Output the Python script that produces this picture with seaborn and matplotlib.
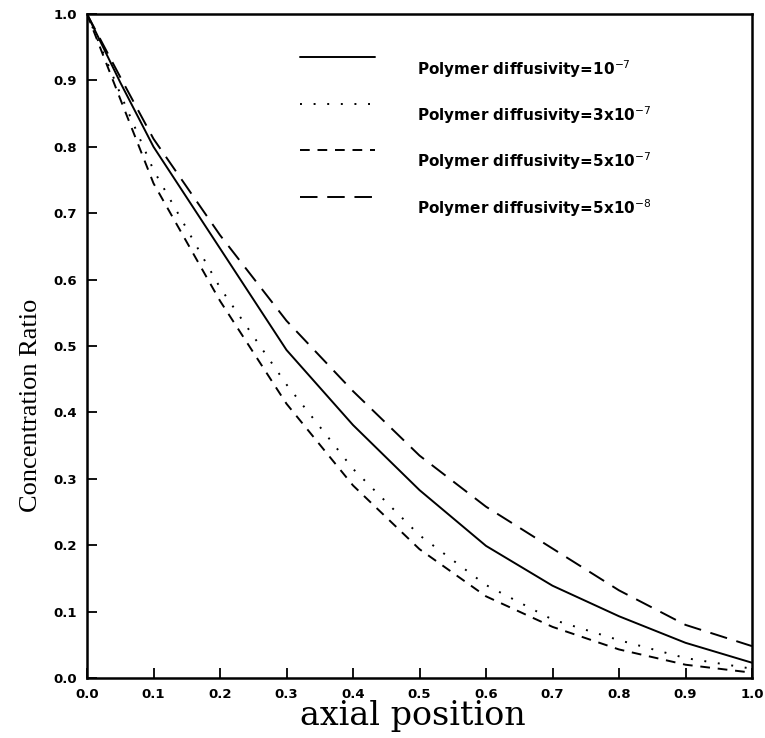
import numpy as np
import pandas as pd
import matplotlib
matplotlib.use("Agg")
import matplotlib.pyplot as plt
import matplotlib.transforms as mtransforms
import seaborn as sns

# Data
axial = [0.0, 0.05, 0.1, 0.2, 0.3, 0.4, 0.5, 0.6, 0.7, 0.8, 0.9, 1.0]
conc_1e7 = [1.0, 0.897, 0.80, 0.647, 0.494, 0.381, 0.283, 0.199, 0.139, 0.093, 0.053, 0.023]
conc_3e7 = [1.0, 0.880, 0.765, 0.588, 0.442, 0.315, 0.215, 0.140, 0.088, 0.057, 0.030, 0.014]
conc_5e7 = [1.0, 0.872, 0.745, 0.568, 0.413, 0.290, 0.194, 0.123, 0.077, 0.043, 0.020, 0.008]
conc_5e8 = [1.0, 0.905, 0.812, 0.667, 0.538, 0.432, 0.335, 0.258, 0.195, 0.132, 0.080, 0.048]

labels = [
    "Polymer diffusivity=10$^{-7}$",
    "Polymer diffusivity=3x10$^{-7}$",
    "Polymer diffusivity=5x10$^{-7}$",
    "Polymer diffusivity=5x10$^{-8}$",
]
x_ticks = [0.0, 0.1, 0.2, 0.3, 0.4, 0.5, 0.6, 0.7, 0.8, 0.9, 1.0]
y_ticks = [0.0, 0.1, 0.2, 0.3, 0.4, 0.5, 0.6, 0.7, 0.8, 0.9, 1.0]

sns.set_style("ticks")
plt.rcParams['font.family'] = ['DejaVu Sans']
plt.rcParams['text.color'] = 'black'
plt.rcParams['axes.labelcolor'] = 'black'
plt.rcParams['xtick.color'] = 'black'
plt.rcParams['ytick.color'] = 'black'
plt.rcParams['axes.edgecolor'] = 'black'

fig = plt.figure(figsize=(7.65, 7.38), dpi=100)
ax = fig.add_axes([87 / 765, 1 - 678 / 738, (752 - 87) / 765, (678 - 14) / 738])

series = [conc_1e7, conc_3e7, conc_5e7, conc_5e8]
styles = ["-", (0, (1, 6)), (0, (5, 4)), (0, (9, 5))]
lw = 1.4
for yv, ls, lab in zip(series, styles, labels):
    sns.lineplot(x=axial, y=yv, ax=ax, color="black", linewidth=lw,
                 linestyle=ls, label=lab)

ax.set_xlim(0, 1)
ax.set_ylim(0, 1)
ax.set_xticks(x_ticks)
ax.set_yticks(y_ticks)
ax.set_xticklabels([f"{t:.1f}" for t in x_ticks], fontsize=9.5, fontweight="bold")
ax.set_yticklabels([f"{t:.1f}" for t in y_ticks], fontsize=9.5, fontweight="bold")
ax.tick_params(direction="in", length=7, width=1.3, pad=7, top=False, right=False)
for s in ax.spines.values():
    s.set_linewidth(1.8)
    s.set_visible(True)
    s.set_color("black")

ax.set_xlabel("axial position", fontsize=24, family="DejaVu Serif")
ax.xaxis.set_label_coords(0.49, -0.033)
ax.set_ylabel("Concentration Ratio", fontsize=19, family="Liberation Serif")
ax.yaxis.set_label_coords(-0.067, 0.41)

leg = ax.legend(loc="upper left", bbox_to_anchor=(0.32, 0.952), frameon=False,
                prop={"weight": "bold", "size": 11},
                handlelength=4.9, handletextpad=2.8, labelspacing=1.62,
                borderpad=0, borderaxespad=0)
shift = mtransforms.ScaledTranslation(0, -12 / 100, fig.dpi_scale_trans)
for t in leg.get_texts():
    t.set_transform(t.get_transform() + shift)

fig.savefig("out.png", dpi=100)
